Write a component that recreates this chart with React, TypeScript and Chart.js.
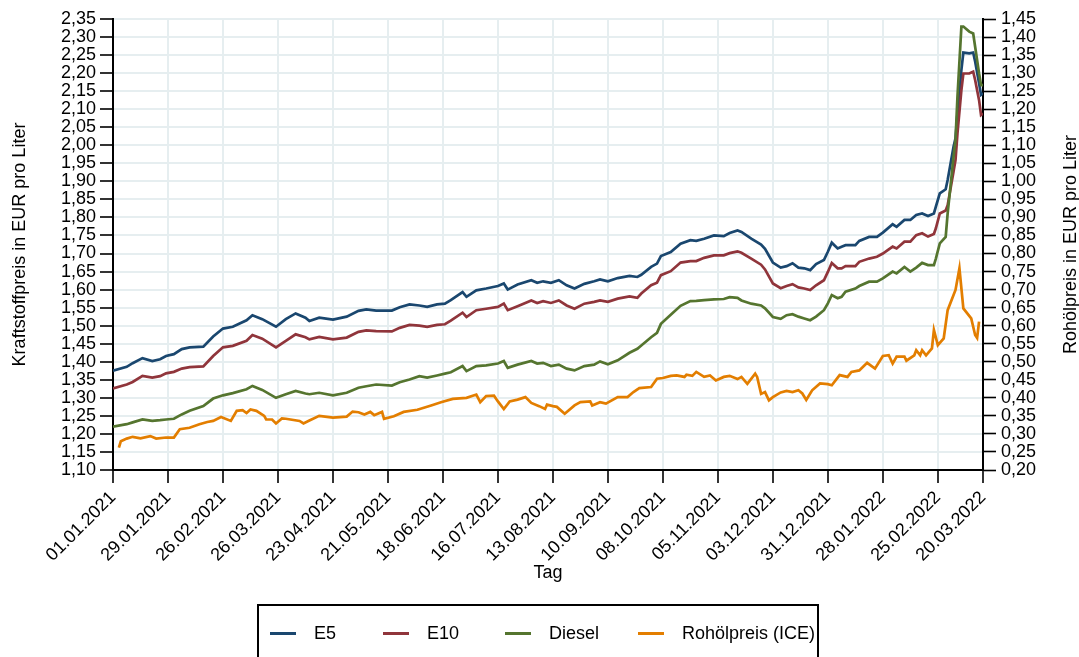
import React, { useEffect, useRef } from "react";
import { Chart, registerables } from "chart.js";

Chart.register(...registerables);

// ---- Data ----
// Day index counted from 01.01.2021 (day 0) to 20.03.2022 (day 443)
const fuelDays = [
  0, 7, 10, 15, 20, 24, 27, 31, 35, 39, 46, 51, 56, 61, 68, 71, 76, 83, 88, 93, 98, 100, 105, 112, 119, 125,
  129, 134, 142, 146, 151, 156, 160, 165, 169, 172, 178, 180, 185, 190, 196, 199, 201, 206, 213, 216, 219, 223,
  227, 231, 235, 240, 245, 248, 252, 257, 263, 267, 269, 274, 277, 279, 284, 289, 294, 297, 301, 306, 311, 314, 318, 320, 325, 330, 332, 336, 340,
  343, 346, 349, 352, 355, 358, 362, 364, 366, 369, 371, 373, 378, 380, 385, 389, 392, 397, 399, 403, 406, 409, 412, 415, 418, 419, 421, 424, 425, 428, 429, 430, 432, 433, 436, 438, 439, 441, 442, 443,
];

const e5 = [
  1.375, 1.386, 1.396, 1.41, 1.402, 1.407, 1.416, 1.421, 1.435, 1.44, 1.442, 1.47, 1.492, 1.497, 1.515, 1.529, 1.518, 1.497, 1.518, 1.534, 1.522, 1.513, 1.522, 1.517, 1.525, 1.541,
  1.545, 1.542, 1.542, 1.551, 1.559, 1.556, 1.552, 1.559, 1.561, 1.571, 1.593, 1.58, 1.598, 1.603, 1.61, 1.617, 1.6, 1.614, 1.626, 1.619, 1.623, 1.619,
  1.626, 1.612, 1.603, 1.616, 1.623, 1.628, 1.623, 1.632, 1.638, 1.635, 1.641, 1.663, 1.672, 1.693, 1.704, 1.727, 1.737, 1.735, 1.741, 1.75, 1.748, 1.757, 1.764, 1.76, 1.741, 1.725, 1.713, 1.675, 1.661,
  1.665, 1.673, 1.661, 1.659, 1.654, 1.671, 1.682, 1.705, 1.73, 1.714, 1.719, 1.723, 1.723, 1.735, 1.746, 1.746, 1.758, 1.781, 1.774, 1.793, 1.793, 1.807, 1.811, 1.804, 1.811, 1.83, 1.867, 1.878, 1.904, 1.996, 2.019, 2.088, 2.209, 2.257, 2.255, 2.257, 2.232, 2.172, 2.14, 2.144,
];

const e10 = [
  1.326, 1.337, 1.344, 1.361, 1.356, 1.36, 1.368, 1.372, 1.381, 1.385, 1.387, 1.416, 1.44, 1.444, 1.458, 1.474, 1.464, 1.44, 1.458, 1.476, 1.468, 1.462, 1.469, 1.462, 1.467, 1.483,
  1.487, 1.485, 1.484, 1.494, 1.502, 1.5, 1.497, 1.502, 1.504, 1.514, 1.536, 1.524, 1.543, 1.547, 1.552, 1.561, 1.543, 1.554, 1.57, 1.563, 1.568, 1.563,
  1.57, 1.556, 1.547, 1.561, 1.566, 1.57, 1.566, 1.575, 1.581, 1.577, 1.589, 1.612, 1.619, 1.64, 1.651, 1.675, 1.679, 1.679, 1.688, 1.695, 1.695, 1.701, 1.706, 1.702, 1.686, 1.669, 1.656, 1.617, 1.604,
  1.61, 1.615, 1.606, 1.603, 1.599, 1.612, 1.626, 1.649, 1.674, 1.659, 1.659, 1.665, 1.665, 1.677, 1.686, 1.691, 1.7, 1.719, 1.714, 1.733, 1.733, 1.751, 1.756, 1.747, 1.754, 1.77, 1.811, 1.819, 1.834, 1.927, 1.959, 2.033, 2.153, 2.199, 2.199, 2.204, 2.181, 2.125, 2.084, 2.088,
];

const diesel = [
  1.22, 1.227, 1.232, 1.24, 1.236, 1.238, 1.24, 1.242, 1.254, 1.264, 1.277, 1.298, 1.307, 1.313, 1.324, 1.333, 1.322, 1.3, 1.31, 1.319, 1.312, 1.31, 1.314, 1.307, 1.314, 1.328,
  1.332, 1.337, 1.334, 1.343, 1.351, 1.36, 1.356, 1.362, 1.367, 1.371, 1.388, 1.374, 1.388, 1.39, 1.395, 1.402, 1.383, 1.392, 1.402, 1.395, 1.397, 1.388,
  1.392, 1.381, 1.376, 1.388, 1.392, 1.401, 1.393, 1.404, 1.425, 1.436, 1.445, 1.468, 1.48, 1.505, 1.53, 1.555, 1.568, 1.569, 1.571, 1.573, 1.574, 1.579, 1.577, 1.57, 1.561, 1.556, 1.548, 1.524, 1.519,
  1.529, 1.532, 1.525, 1.52, 1.515, 1.525, 1.543, 1.562, 1.585, 1.576, 1.58, 1.594, 1.603, 1.61, 1.622, 1.622, 1.631, 1.65, 1.645, 1.663, 1.65, 1.661, 1.674, 1.668, 1.668, 1.686, 1.728, 1.746, 1.811, 1.968, 2.015, 2.135, 2.329, 2.329, 2.315, 2.31, 2.273, 2.199, 2.167, 2.167,
];

// Crude oil (ICE), EUR per liter, right axis
const crudeDays = [
  3, 4, 7, 10, 14, 19, 22, 27, 31, 34, 39, 44, 48, 51, 55, 60, 63, 66, 68, 70, 73, 77, 78, 81, 83, 86, 88, 95, 97, 100, 105, 112, 119, 122, 125,
  128, 131, 133, 137, 138, 143, 148, 155, 162, 167, 173, 180, 185, 187, 190, 194, 196, 199, 202, 206, 210, 213, 217, 220, 221, 224,
  226, 230, 235, 238, 243, 244, 248, 251, 257, 262, 265, 268, 274, 277, 280, 284, 287, 291, 292, 295, 297, 301, 304, 307, 311, 314, 318, 320, 323, 327, 328, 330, 332, 334, 336, 340,
  343, 346, 349, 351, 353, 356, 360, 364, 366, 370, 374, 376, 380, 384, 388, 392, 395, 397, 399, 403, 404, 408, 409, 411, 412, 414, 417, 418, 420, 423, 425, 429, 431, 433, 437, 439, 440, 441,
];

const crude = [
  0.262, 0.28, 0.287, 0.292, 0.288, 0.294, 0.287, 0.29, 0.29, 0.313, 0.317, 0.327, 0.333, 0.336, 0.347, 0.336, 0.364, 0.366, 0.358, 0.368, 0.364, 0.35, 0.34, 0.34, 0.329, 0.343, 0.342, 0.336, 0.329, 0.337, 0.35, 0.345, 0.348, 0.362, 0.36,
  0.354, 0.361, 0.352, 0.361, 0.342, 0.349, 0.361, 0.367, 0.379, 0.388, 0.397, 0.4, 0.409, 0.388, 0.405, 0.406, 0.39, 0.369, 0.39, 0.395, 0.402, 0.386, 0.377, 0.369, 0.381, 0.377,
  0.375, 0.356, 0.379, 0.388, 0.39, 0.379, 0.388, 0.384, 0.402, 0.402, 0.416, 0.427, 0.43, 0.453, 0.455, 0.461, 0.462, 0.458, 0.464, 0.461, 0.472, 0.458, 0.462, 0.448, 0.458, 0.461, 0.452, 0.458, 0.439, 0.467, 0.458, 0.411, 0.416, 0.393, 0.402, 0.415,
  0.419, 0.416, 0.421, 0.412, 0.394, 0.421, 0.44, 0.438, 0.435, 0.463, 0.458, 0.472, 0.476, 0.497, 0.481, 0.516, 0.518, 0.495, 0.514, 0.514, 0.503, 0.518, 0.532, 0.518, 0.532, 0.518, 0.537, 0.588, 0.546, 0.565, 0.643, 0.699, 0.759, 0.648, 0.62, 0.574, 0.566, 0.611,
];

const xTickDays = [0, 28, 56, 84, 112, 140, 168, 196, 224, 252, 280, 308, 336, 364, 392, 420, 443];
const xTickLabels = [
  "01.01.2021", "29.01.2021", "26.02.2021", "26.03.2021", "23.04.2021", "21.05.2021", "18.06.2021", "16.07.2021",
  "13.08.2021", "10.09.2021", "08.10.2021", "05.11.2021", "03.12.2021", "31.12.2021", "28.01.2022", "25.02.2022", "20.03.2022",
];

const seriesNames = ["E5", "E10", "Diesel", "Rohölpreis (ICE)"];
const seriesColors = ["#1a476f", "#90353b", "#55752f", "#e37e00"];
const legendLefts = [11, 124, 246, 379];

const leftTitle = "Kraftstoffpreis in EUR pro Liter";
const rightTitle = "Rohölpreis in EUR pro Liter";
const xTitle = "Tag";

const FONT_FAMILY = "'Liberation Sans', Arial, Helvetica, sans-serif";
const GRID = "#e6eef0";

const pts = (xs: number[], ys: number[]) => xs.map((x, i) => ({ x, y: ys[i] }));
const fmt = (v: number) => Number(v).toFixed(2).replace(".", ",");

const rightTitlePlugin = {
  id: "rightTitle",
  afterDraw(chart: any) {
    const { ctx, chartArea } = chart;
    ctx.save();
    ctx.translate(1071, (chartArea.top + chartArea.bottom) / 2);
    ctx.rotate(-Math.PI / 2);
    ctx.font = `18px ${FONT_FAMILY}`;
    ctx.fillStyle = "#000";
    ctx.textAlign = "center";
    ctx.textBaseline = "middle";
    ctx.fillText(rightTitle, 0, 0);
    ctx.restore();
  },
};

export default function App() {
  const ref = useRef<HTMLCanvasElement>(null);

  useEffect(() => {
    if (!ref.current) return;
    const font = { family: FONT_FAMILY, size: 18 };
    const series = [e5, e10, diesel];
    const datasets: any[] = series.map((s, i) => ({
      label: seriesNames[i],
      data: pts(fuelDays, s),
      borderColor: seriesColors[i],
      backgroundColor: seriesColors[i],
      borderWidth: 2.7,
      pointRadius: 0,
      tension: 0,
      yAxisID: "y",
      order: 3 - i,
    }));
    datasets.push({
      label: seriesNames[3],
      data: pts(crudeDays, crude),
      borderColor: seriesColors[3],
      backgroundColor: seriesColors[3],
      borderWidth: 2.7,
      pointRadius: 0,
      tension: 0,
      yAxisID: "y1",
      order: 0,
    });

    const chart = new Chart(ref.current, {
      type: "line",
      data: { datasets },
      plugins: [rightTitlePlugin],
      options: {
        animation: false,
        responsive: false,
        maintainAspectRatio: false,
        layout: { padding: { top: 19, left: 0, right: 0, bottom: 0 } },
        plugins: { legend: { display: false }, tooltip: { enabled: false } },
        scales: {
          x: {
            type: "linear",
            min: 0,
            max: 443,
            afterBuildTicks: (s: any) => {
              s.ticks = xTickDays.map((v) => ({ value: v }));
            },
            afterFit: (s: any) => {
              s.height = 187;
            },
            ticks: {
              autoSkip: false,
              maxRotation: 45,
              minRotation: 45,
              color: "#000",
              font,
              padding: 4,
              callback: (_v: any, i: number) => xTickLabels[i],
            },
            grid: { color: GRID, lineWidth: 2, drawTicks: true, tickLength: 13, tickColor: "#000", tickWidth: 1.6 },
            border: { display: true, color: "#000", width: 2 },
            title: { display: true, text: xTitle, color: "#000", font: { ...font, lineHeight: 1 }, padding: { top: 0, bottom: 75 } },
          },
          y: {
            position: "left",
            min: 1.1,
            max: 2.35,
            afterFit: (s: any) => {
              s.width = 113;
            },
            ticks: { stepSize: 0.05, color: "#000", font, padding: 4, callback: (v: any) => fmt(v), autoSkip: false },
            grid: { color: GRID, lineWidth: 2, drawTicks: true, tickLength: 13, tickColor: "#000", tickWidth: 1.6 },
            border: { display: true, color: "#000", width: 2 },
            title: { display: true, text: leftTitle, color: "#000", font: { ...font, lineHeight: 1 }, padding: { top: 11, bottom: 0 } },
          },
          y1: {
            position: "right",
            min: 0.2,
            max: 1.45,
            afterFit: (s: any) => {
              s.width = 96;
            },
            ticks: { stepSize: 0.05, color: "#000", font, padding: 5, callback: (v: any) => fmt(v), autoSkip: false },
            grid: { drawOnChartArea: false, drawTicks: true, tickLength: 13, tickColor: "#000", tickWidth: 1.6 },
            border: { display: true, color: "#000", width: 2 },
          },
        },
      },
    } as any);
    return () => chart.destroy();
  }, []);

  return (
    <div style={{ position: "absolute", left: 0, top: 0, width: 1079, height: 657, background: "#fff", overflow: "hidden" }}>
      <canvas ref={ref} width={1079} height={657} style={{ display: "block" }} />
      <div
        style={{
          position: "absolute",
          left: 257,
          top: 604,
          width: 562,
          height: 90,
          border: "2px solid #000",
          boxSizing: "border-box",
          fontFamily: FONT_FAMILY,
          fontSize: 18,
          color: "#000",
        }}
      >
        {seriesNames.map((name, i) => (
          <div
            key={name}
            style={{ position: "absolute", left: legendLefts[i], top: 17, height: 20, display: "flex", alignItems: "center", whiteSpace: "nowrap" }}
          >
            <span style={{ display: "inline-block", width: 26, height: 3, background: seriesColors[i] }} />
            <span style={{ marginLeft: 18, lineHeight: "20px" }}>{name}</span>
          </div>
        ))}
      </div>
    </div>
  );
}
